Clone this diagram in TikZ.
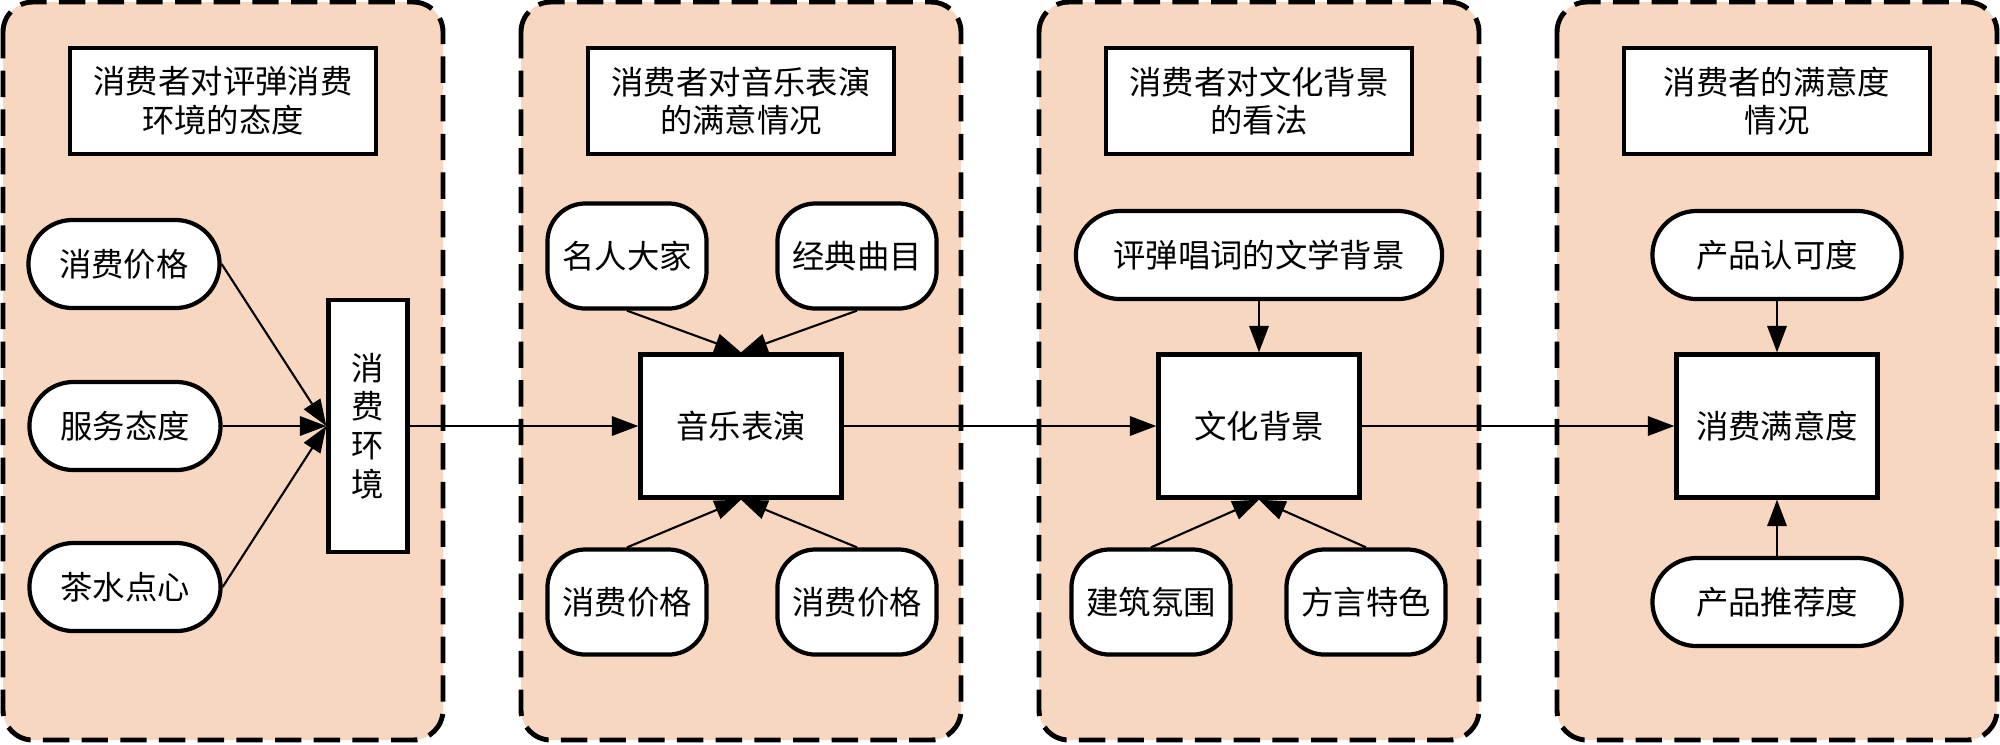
\documentclass[tikz,border=0pt]{standalone}
\usepackage{fontspec}
\setmainfont{Noto Sans CJK SC}
\usetikzlibrary{arrows.meta}

\definecolor{panelfill}{RGB}{248,215,192}

\tikzset{
  panel/.style={draw,fill=panelfill,line width=1.4pt,dash pattern=on 7.5pt off 3.5pt,rounded corners=0.3cm},
  titlebox/.style={draw,fill=white,line width=1.2pt,inner sep=0pt,align=center,minimum width=3.06cm,minimum height=1.06cm},
  mainbox/.style={draw,fill=white,line width=1.2pt,inner sep=0pt,minimum width=2.01cm,minimum height=1.43cm},
  oval/.style={draw,fill=white,line width=1.2pt,inner sep=0pt,rounded corners=0.44cm,minimum height=0.88cm},
  softbox/.style={draw,fill=white,line width=1.2pt,inner sep=0pt,rounded corners=0.38cm,minimum width=1.59cm,minimum height=1.05cm},
  conn/.style={line width=0.6pt,-{Triangle[length=7.5pt,width=5.5pt]}}
}

\begin{document}
\begin{tikzpicture}[x=0.01cm,y=-0.01cm,font=\fontsize{9.2pt}{11pt}\selectfont]
\useasboundingbox (0,0) rectangle (2000,744);

% four dashed panels
\foreach \i in {0,...,3}
  \draw[panel] ({3+518*\i},2) rectangle ({443+518*\i},740);

% panel titles
\node[titlebox] (t1) at (223,101) {消费者对评弹消费\\环境的态度};
\node[titlebox] (t2) at (741,101) {消费者对音乐表演\\的满意情况};
\node[titlebox] (t3) at (1259,101) {消费者对文化背景\\的看法};
\node[titlebox] (t4) at (1777,101) {消费者的满意度\\情况};

% panel 1
\node[oval,minimum width=1.91cm] (price) at (124,264) {消费价格};
\node[oval,minimum width=1.91cm] (service) at (125,426) {服务态度};
\node[oval,minimum width=1.91cm] (tea) at (125,587) {茶水点心};
\node[draw,fill=white,line width=1.2pt,inner sep=0pt,align=center,minimum width=0.79cm,minimum height=2.52cm] (env) at (368,426) {消\\费\\环\\境};

% panel 2
\node[mainbox] (music) at (741,426) {音乐表演};
\node[softbox] (star) at (627,256) {名人大家};
\node[softbox] (classic) at (857,256) {经典曲目};
\node[softbox] (priceb) at (627,602) {消费价格};
\node[softbox] (pricec) at (857,602) {消费价格};

% panel 3
\node[mainbox] (culture) at (1259,426) {文化背景};
\node[oval,minimum width=3.66cm] (lyric) at (1259,255) {评弹唱词的文学背景};
\node[softbox] (build) at (1151,602) {建筑氛围};
\node[softbox] (dialect) at (1366,602) {方言特色};

% panel 4
\node[mainbox] (satis) at (1777,426) {消费满意度};
\node[oval,minimum width=2.49cm] (accept) at (1777,255) {产品认可度};
\node[oval,minimum width=2.49cm] (recom) at (1777,602) {产品推荐度};

% connectors
\draw[conn] (price.east) -- (env.west);
\draw[conn] (service.east) -- (env.west);
\draw[conn] (tea.east) -- (env.west);
\draw[conn] (star.south) -- (music.north);
\draw[conn] (classic.south) -- (music.north);
\draw[conn] (priceb.north) -- (music.south);
\draw[conn] (pricec.north) -- (music.south);
\draw[conn] (lyric.south) -- (culture.north);
\draw[conn] (build.north) -- (culture.south);
\draw[conn] (dialect.north) -- (culture.south);
\draw[conn] (accept.south) -- (satis.north);
\draw[conn] (recom.north) -- (satis.south);

% main chain
\draw[conn] (env.east) -- (music.west);
\draw[conn] (music.east) -- (culture.west);
\draw[conn] (culture.east) -- (satis.west);

\end{tikzpicture}
\end{document}
